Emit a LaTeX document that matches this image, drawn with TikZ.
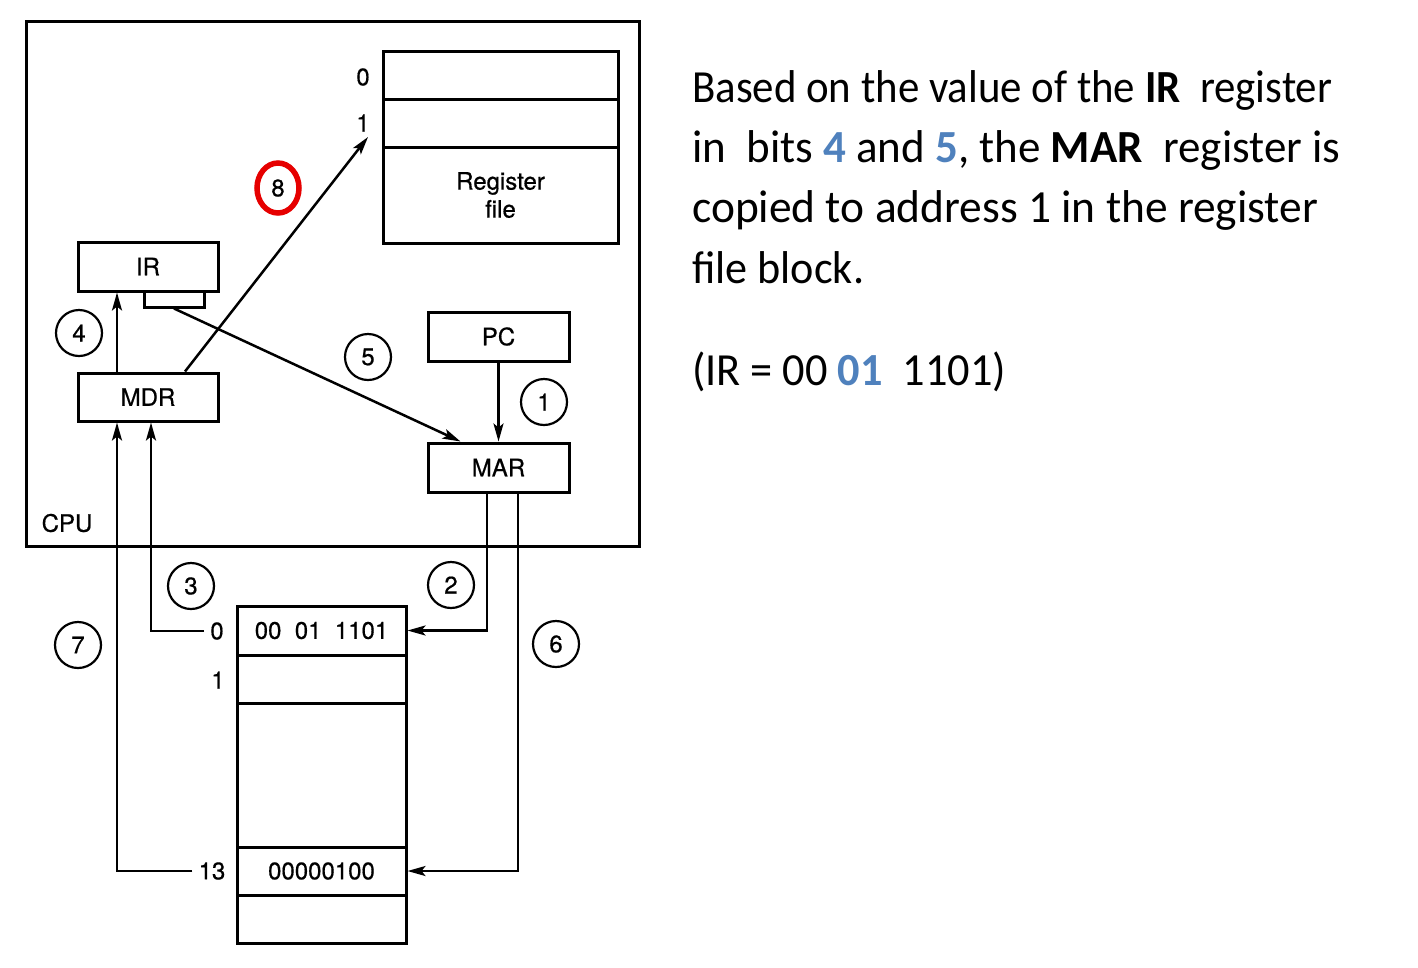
\documentclass[tikz,border=0pt]{standalone}
\usepackage{fontspec}
\usepackage{graphicx}
\usetikzlibrary{arrows.meta,shapes.geometric,calc}
\newfontfamily\calfont{Carlito}
\newfontfamily\helv[FakeBold=0.6]{TeX Gyre Heros}
\definecolor{offblue}{RGB}{79,129,189}
\definecolor{markred}{RGB}{230,0,0}
\newcommand\fitw[2]{\resizebox{#1}{\height}{#2}}
\newcommand\bl[1]{\textcolor{offblue}{\textbf{#1}}}
\begin{document}
\begin{tikzpicture}[x=1pt,y=-1pt,
  every node/.style={font=\helv\fontsize{24}{26}\selectfont},
  box/.style={draw,line width=3pt,rectangle,inner sep=0pt,align=center},
  num/.style={draw,circle,line width=2.2pt,minimum size=46pt,inner sep=0pt},
  lab/.style={inner sep=0pt,inner xsep=6pt},
  arr/.style={line width=2.5pt,-{Stealth[length=18pt,width=10pt,inset=4pt]}},
  txt/.style={anchor=base west,inner sep=0pt,font=\calfont\fontsize{46}{55}\selectfont}
]
\useasboundingbox (0,0) rectangle (1418,967);
\fill[white] (0,0) rectangle (1418,967);

% CPU frame
\node[box,minimum width=613pt,minimum height=525pt] (cpu) at (332.5,283.5) {};
\node[inner sep=0pt] (cpulab) at (67,523) {CPU};

% register file
\node[box,minimum width=235pt,minimum height=48pt] (rf0) at (500.5,75) {};
\node[box,minimum width=235pt,minimum height=48pt] (rf1) at (500.5,123) {};
\node[box,minimum width=235pt,minimum height=96pt] (rf2) at (500.5,195) {Register\\[2pt]file};
\node[inner sep=0pt] (rl0) at (363,77) {0};
\node[inner sep=0pt] (rl1) at (363,123) {1};
\coordinate (rfin) at (368,137);

% registers
\node[box,minimum width=140pt,minimum height=49pt] (ir) at (148,266.5) {IR};
\node[box,minimum width=60pt,minimum height=16pt] (irs) at (174,299) {};
\node[box,minimum width=140pt,minimum height=48pt] (mdr) at (148,397) {MDR};
\node[box,minimum width=141pt,minimum height=49pt] (pc) at (498.5,336.5) {PC};
\node[box,minimum width=141pt,minimum height=49pt] (mar) at (498.5,467.5) {MAR};

% memory
\node[box,minimum width=169pt,minimum height=49pt] (m0) at (321.5,630.5) {00\ \ 01\ \ 1101};
\node[box,minimum width=169pt,minimum height=48pt] (m1) at (321.5,679) {};
\node[box,minimum width=169pt,minimum height=144pt] (mgap) at (321.5,775) {};
\node[box,minimum width=169pt,minimum height=48pt] (m13) at (321.5,871) {00000100};
\node[box,minimum width=169pt,minimum height=48pt] (mlast) at (321.5,919) {};
\node[lab] (ml0) at (217,631) {0};
\node[lab] (ml1) at (218,680) {1};
\node[lab] (ml13) at (212,871) {13};

% step numbers
\node[num] (n1) at (544,402) {1};
\node[num] (n2) at (451,585) {2};
\node[num] (n3) at (191,586) {3};
\node[num] (n4) at (79,333) {4};
\node[num] (n5) at (368,357) {5};
\node[num] (n6) at (556,644) {6};
\node[num] (n7) at (78,645) {7};
\node[draw=markred,ellipse,line width=5.5pt,minimum width=42pt,minimum height=50pt,inner sep=0pt] (n8) at (278,188) {8};

% connectors
\draw[arr] ([xshift=-31pt]mdr.north) -- ([xshift=-31pt]ir.south);
\draw[arr] ([xshift=37pt]mdr.north) -- (rfin);
\draw[arr] (irs.south) -- ([xshift=-38pt]mar.north);
\draw[arr] (pc.south) -- (mar.north);
\draw[arr] ([xshift=-11.5pt]mar.south) |- (m0.east);
\draw[arr] ([xshift=19.5pt]mar.south) |- (m13.east);
\draw[arr] (ml0.west) -| ([xshift=3pt]mdr.south);
\draw[arr] (ml13.west) -| ([xshift=-31pt]mdr.south);

% explanatory text
\node[txt] (t1) at (692,102) {\fitw{640pt}{Based on the value of the \textbf{IR}\ \ register}};
\node[txt] (t2) at (692,162) {\fitw{648pt}{in\ \ bits \bl{4} and \bl{5}, the \textbf{MAR}\ \ register is}};
\node[txt] (t3) at (692,222) {\fitw{626pt}{copied to address 1 in the register}};
\node[txt] (t4) at (692,283) {\fitw{172pt}{file block.}};
\node[txt] (t5) at (692,385) {\fitw{314pt}{(IR = 00 \bl{01}\ \ 1101)}};
\end{tikzpicture}
\end{document}
